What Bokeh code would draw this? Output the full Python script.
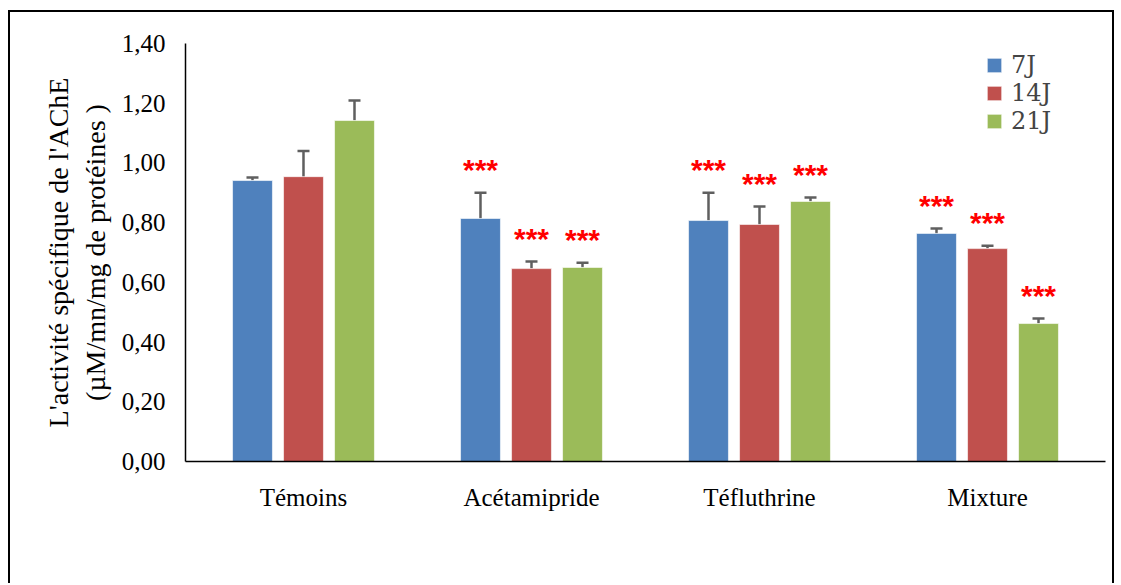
from bokeh.plotting import figure
from bokeh.models import (FactorRange, ColumnDataSource, Whisker, TeeHead, FixedTicker,
                          CustomJSTickFormatter, Legend, LegendItem)
from bokeh.transform import dodge
from bokeh.core.properties import value
from bokeh.embed import file_html
from bokeh.resources import INLINE

categories = ["Témoins", "Acétamipride", "Téfluthrine", "Mixture"]
series = ["7J", "14J", "21J"]
means = {
    "7J":  [0.941, 0.814, 0.807, 0.764],
    "14J": [0.954, 0.646, 0.794, 0.713],
    "21J": [1.142, 0.650, 0.871, 0.462],
}
errors = {
    "7J":  [0.010, 0.086, 0.093, 0.016],
    "14J": [0.086, 0.024, 0.060, 0.010],
    "21J": [0.067, 0.016, 0.013, 0.017],
}
signif = {
    "7J":  ["", "***", "***", "***"],
    "14J": ["", "***", "***", "***"],
    "21J": ["", "***", "***", "***"],
}
colors = {"7J": "#4F81BD", "14J": "#C0504D", "21J": "#9BBB59"}
y_ticks = [0.0, 0.2, 0.4, 0.6, 0.8, 1.0, 1.2, 1.4]

xr = FactorRange(*categories, range_padding=0.0175, range_padding_units="absolute")

p = figure(x_range=xr, y_range=(0, 1.4), width=1106, height=573,
           output_backend="svg", toolbar_location=None,
           min_border_left=175, min_border_right=11, min_border_top=31, min_border_bottom=124)
p.styles = {"margin-left": "8px", "margin-top": "10px",
            "border-top": "2px solid black", "border-left": "2px solid black",
            "border-right": "2px solid black"}

step = 0.2237
bar_w = 0.175
renderers = {}
for i, s in enumerate(series):
    off = (i - 1) * step
    tops = [m + e for m, e in zip(means[s], errors[s])]
    src = ColumnDataSource(dict(x=categories, top=means[s], up=tops))
    r = p.vbar(x=dodge("x", off, range=xr), top="top", width=bar_w, source=src,
               fill_color=colors[s], line_color="white", line_width=1, line_alpha=0.6)
    renderers[s] = r
    w = Whisker(base=dodge("x", off, range=xr), lower="top", upper="up", source=src,
                dimension="height", line_color="#5f5f5f", line_width=2.5,
                upper_head=TeeHead(size=12, line_color="#5f5f5f", line_width=2.5),
                lower_head=None)
    p.add_layout(w)
    keep = [k for k, t in enumerate(signif[s]) if t]
    ssrc = ColumnDataSource(dict(x=[categories[k] for k in keep],
                                 up=[tops[k] for k in keep],
                                 sig=[signif[s][k] for k in keep]))
    p.text(x=dodge("x", off, range=xr), y="up", text="sig", source=ssrc, text_color="red",
           text_font=value("Liberation Sans"), text_font_style="bold", text_font_size="30px",
           text_align="center", text_baseline="middle", y_offset=-23)

legend = Legend(items=[LegendItem(label=s, renderers=[renderers[s]]) for s in series],
                location=(800, 326), label_text_font="DejaVu Serif", label_text_font_size="24px",
                glyph_width=18, glyph_height=18, spacing=0, padding=5, label_height=27,
                border_line_color=None, background_fill_alpha=0, label_standoff=8)
p.add_layout(legend)

p.xgrid.visible = False
p.ygrid.visible = False
p.outline_line_color = None

p.xaxis.major_tick_line_color = None
p.xaxis.minor_tick_line_color = None
p.xaxis.axis_line_color = "black"
p.xaxis.axis_line_width = 1.5
p.xaxis.major_label_text_font = "Liberation Serif"
p.xaxis.major_label_text_font_size = "25px"
p.xaxis.major_label_text_color = "black"
p.xaxis.major_label_standoff = 16

p.yaxis.ticker = FixedTicker(ticks=y_ticks)
p.yaxis.formatter = CustomJSTickFormatter(code="return tick.toFixed(2).replace('.', ',');")
p.yaxis.major_tick_line_color = None
p.yaxis.minor_tick_line_color = None
p.yaxis.axis_line_color = "black"
p.yaxis.axis_line_width = 1.5
p.yaxis.major_label_text_font = "Liberation Serif"
p.yaxis.major_label_text_font_size = "25px"
p.yaxis.major_label_text_color = "black"
p.yaxis.major_label_standoff = 14
p.yaxis.axis_label = "L'activité spécifique de l'AChE\n(µM/mn/mg de protéines )"
p.yaxis.axis_label_text_font = "Liberation Serif"
p.yaxis.axis_label_text_font_size = "28px"
p.yaxis.axis_label_text_font_style = "normal"
p.yaxis.axis_label_text_color = "black"
p.yaxis.axis_label_standoff = 8

open("out.html", "w").write(file_html(p, INLINE))
